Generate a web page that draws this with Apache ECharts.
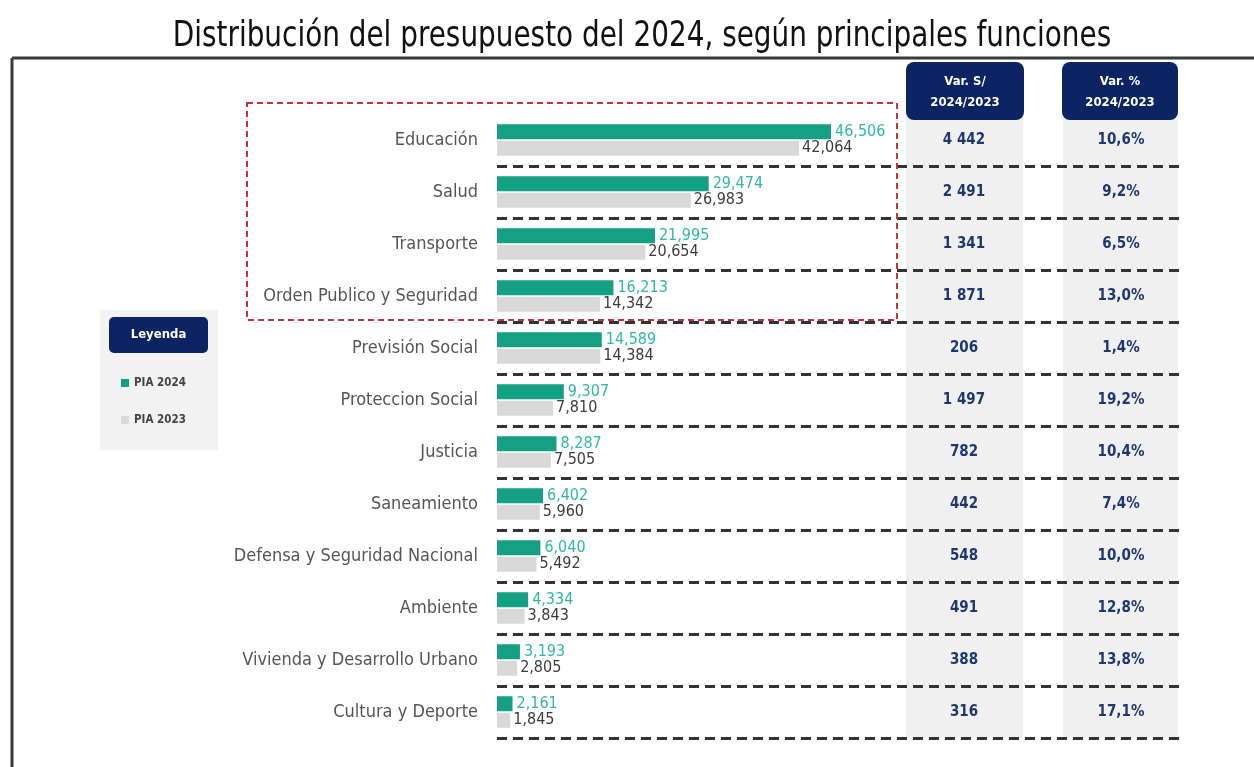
<!DOCTYPE html>
<html>
<head>
<meta charset="utf-8">
<title>Distribución del presupuesto del 2024</title>
<script src="https://cdn.jsdelivr.net/npm/echarts@6/dist/echarts.min.js"></script>
<style>
  html, body { margin: 0; padding: 0; background: #fff; }
  #chart { width: 1254px; height: 767px; }
</style>
</head>
<body>
<div id="chart"></div>
<script>
// datos (millones de S/)
const categories = ['Educación', 'Salud', 'Transporte', 'Orden Publico y Seguridad', 'Previsión Social',
  'Proteccion Social', 'Justicia', 'Saneamiento', 'Defensa y Seguridad Nacional', 'Ambiente',
  'Vivienda y Desarrollo Urbano', 'Cultura y Deporte'];
const pia2024 = [46506, 29474, 21995, 16213, 14589, 9307, 8287, 6402, 6040, 4334, 3193, 2161];
const pia2023 = [42064, 26983, 20654, 14342, 14384, 7810, 7505, 5960, 5492, 3843, 2805, 1845];
const varSoles = [4442, 2491, 1341, 1871, 206, 1497, 782, 442, 548, 491, 388, 316];
const varPct = [10.6, 9.2, 6.5, 13.0, 1.4, 19.2, 10.4, 7.4, 10.0, 12.8, 13.8, 17.1];

const NARROW = "'Liberation Sans Narrow', 'DejaVu Sans Condensed', 'Arial Narrow', sans-serif";
const NAVY = '#0c2462';
const GREEN = '#14a085';
const GREY = '#d9d9d9';

const fmtComma = v => v.toLocaleString('en-US');
const fmtSpace = v => String(v).replace(/\B(?=(\d{3})+(?!\d))/g, ' ');
const fmtPct = v => v.toFixed(1).replace('.', ',') + '%';

const chart = echarts.init(document.getElementById('chart'));

const rowTop = 114, rowsHeight = 624;

function tableAxis(gridIndex, labels) {
  return {
    type: 'category', gridIndex: gridIndex, inverse: true, data: labels,
    axisLine: { show: false }, axisTick: { show: false }, splitLine: { show: false },
    axisLabel: { margin: -58, align: 'center', color: '#1f3770', fontWeight: 'bold', fontSize: 15,
      fontFamily: NARROW, padding: [6, 0, 0, 0] }
  };
}

const option = {
  animation: false,
  textStyle: { fontFamily: NARROW },
  grid: [
    { left: 497, top: rowTop, width: 683, height: rowsHeight, outerBoundsMode: 'none' },
    { left: 906, top: rowTop, width: 117, height: rowsHeight, show: true, backgroundColor: '#f0f0f0', borderWidth: 0, outerBoundsMode: 'none' },
    { left: 1063, top: rowTop, width: 115, height: rowsHeight, show: true, backgroundColor: '#f0f0f0', borderWidth: 0, outerBoundsMode: 'none' }
  ],
  legend: {
    orient: 'vertical', left: 116, top: 372, itemGap: 25, itemWidth: 8, itemHeight: 8,
    icon: 'rect', data: ['PIA 2024', 'PIA 2023'],
    textStyle: { fontSize: 11.5, fontWeight: 'bold', color: '#444', fontFamily: NARROW }
  },
  xAxis: [
    { type: 'value', gridIndex: 0, min: 0, max: 95100, show: false },
    { type: 'value', gridIndex: 1, min: 0, max: 1, show: false },
    { type: 'value', gridIndex: 2, min: 0, max: 1, show: false }
  ],
  yAxis: [
    {
      type: 'category', gridIndex: 0, inverse: true, data: categories, z: 5,
      axisLine: { show: false }, axisTick: { show: false },
      axisLabel: { margin: 19, color: '#555', fontSize: 18, fontFamily: NARROW },
      splitLine: {
        show: true,
        interval: function (i) { return i > 0; },
        lineStyle: { color: '#333', width: 3, type: [10, 6] }
      }
    },
    tableAxis(1, varSoles.map(fmtSpace)),
    tableAxis(2, varPct.map(fmtPct))
  ],
  series: [
    {
      name: 'PIA 2024', type: 'bar', xAxisIndex: 0, yAxisIndex: 0, data: pia2024,
      barWidth: 15, barGap: '10%', itemStyle: { color: GREEN },
      label: { show: true, position: 'right', distance: 4, color: '#2fb8a6', fontSize: 16, fontFamily: NARROW,
        formatter: p => fmtComma(p.value) }
    },
    {
      name: 'PIA 2023', type: 'bar', xAxisIndex: 0, yAxisIndex: 0, data: pia2023,
      barWidth: 15, itemStyle: { color: GREY },
      label: { show: true, position: 'right', distance: 3, color: '#3c3c3c', fontSize: 16, fontFamily: NARROW,
        formatter: p => fmtComma(p.value) }
    }
  ],
  graphic: [
    // título
    { type: 'text', x: 642, y: 37, scaleY: 1.12, z: 10,
      style: { text: 'Distribución del presupuesto del 2024, según principales funciones',
        fill: '#111', align: 'center', verticalAlign: 'middle',
        font: "31px 'Liberation Sans Narrow', 'DejaVu Sans Condensed', sans-serif" } },
    // marco
    { type: 'line', shape: { x1: 12, y1: 58, x2: 1254, y2: 58 }, style: { stroke: '#3a3a3a', lineWidth: 3 } },
    { type: 'line', shape: { x1: 12, y1: 58, x2: 12, y2: 767 }, style: { stroke: '#3a3a3a', lineWidth: 3 } },
    // recuadro rojo
    { type: 'rect', shape: { x: 247, y: 103, width: 650, height: 217 }, z: 6,
      style: { fill: 'none', stroke: '#c8323f', lineWidth: 2, lineDash: [6, 4] } },
    // cabeceras de tabla
    { type: 'rect', shape: { x: 906, y: 62, width: 118, height: 58, r: 8 }, style: { fill: NAVY } },
    { type: 'text', x: 965, y: 92, style: { text: 'Var. S/\n2024/2023', fill: '#fff', align: 'center', verticalAlign: 'middle',
        font: "bold 13px 'Liberation Sans Narrow', 'DejaVu Sans Condensed', sans-serif", lineHeight: 21 } },
    { type: 'rect', shape: { x: 1062, y: 62, width: 116, height: 58, r: 8 }, style: { fill: NAVY } },
    { type: 'text', x: 1120, y: 92, style: { text: 'Var. %\n2024/2023', fill: '#fff', align: 'center', verticalAlign: 'middle',
        font: "bold 13px 'Liberation Sans Narrow', 'DejaVu Sans Condensed', sans-serif", lineHeight: 21 } },
    // leyenda
    { type: 'rect', shape: { x: 100, y: 310, width: 118, height: 140 }, z: -1, style: { fill: '#f2f2f2' } },
    { type: 'rect', shape: { x: 109, y: 317, width: 99, height: 36, r: 5 }, style: { fill: NAVY } },
    { type: 'text', x: 158.5, y: 335, style: { text: 'Leyenda', fill: '#fff', align: 'center', verticalAlign: 'middle',
        font: "bold 13px 'Liberation Sans Narrow', 'DejaVu Sans Condensed', sans-serif" } }
  ]
};

chart.setOption(option);
</script>
</body>
</html>
